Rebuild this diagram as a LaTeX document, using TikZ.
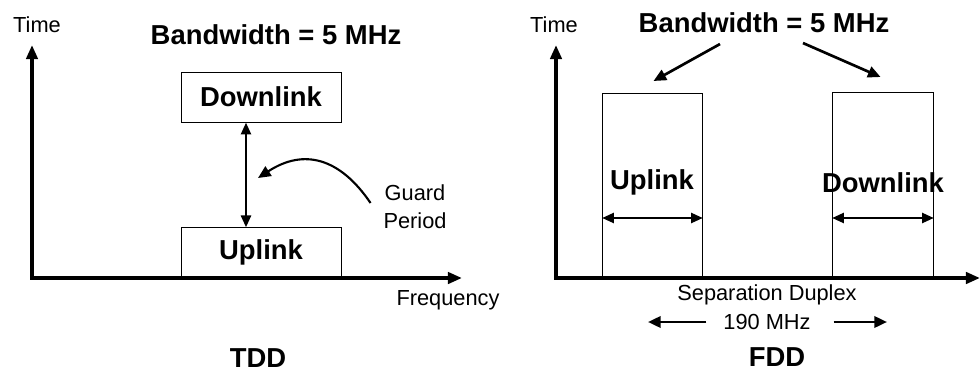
\documentclass[tikz,border=0pt]{standalone}
\usepackage{fontspec}
\setmainfont{Liberation Sans}
\usetikzlibrary{arrows.meta,positioning,calc}

\begin{document}
\begin{tikzpicture}[
 axis/.style={line width=2.7pt,{Triangle[length=10pt,width=8pt]}-{Triangle[length=10pt,width=8pt]}},
 band/.style={draw,line width=0.7pt,minimum width=4cm,minimum height=1.25cm,inner sep=0pt},
 twoway/.style={line width=2pt,{Triangle[length=8.5pt,width=7pt]}-{Triangle[length=8.5pt,width=7pt]}},
 pointer/.style={line width=1.9pt,-{Triangle[length=9pt,width=8pt]}},
 bigtxt/.style={font=\fontsize{19.5}{22}\selectfont\bfseries},
 smalltxt/.style={font=\fontsize{15.5}{20}\selectfont,align=center}]
\useasboundingbox (0,0) rectangle (24.5,9.4);
% TDD
\coordinate (tddtop) at (0.8,8.275);
\coordinate (tddorig) at (0.8,2.45);
\coordinate (tddend) at (11.55,2.45);
\draw[axis] (tddtop) -- (tddorig) -- (tddend);
\node[smalltxt] (tddtime) at (0.925,8.775) {Time};
\node[bigtxt] (tddbw) at (6.9,8.525) {Bandwidth = 5 MHz};
\node[band,bigtxt] (tdddown) at (6.525,6.975) {Downlink};
\node[band,bigtxt,minimum height=1.225cm] (tddup) at (6.525,3.09) {Uplink};
\draw[twoway] ([xshift=-0.375cm]tdddown.south) -- ([xshift=-0.375cm]tddup.north);
\node[smalltxt] (guard) at (10.375,4.225) {Guard\\Period};
\coordinate (gptip) at (6.45,4.95);
\draw[pointer,line width=1.5pt] ([xshift=-0.2cm,yshift=0.1cm]guard.west) .. controls (8.5,5.45) and (7.6,5.7) .. (gptip);
\node[smalltxt] (tddfreq) at (11.2,1.9) {Frequency};
\node[bigtxt] (tddname) at (6.45,0.45) {TDD};
% FDD
\coordinate (fddtop) at (13.9,8.275);
\coordinate (fddorig) at (13.9,2.45);
\coordinate (fddend) at (24.5,2.45);
\draw[axis] (fddtop) -- (fddorig) -- (fddend);
\node[smalltxt] (fddtime) at (13.85,8.775) {Time};
\node[bigtxt] (fddbw) at (19.1,8.825) {Bandwidth = 5 MHz};
\node[band,minimum width=2.5cm,minimum height=4.6cm,anchor=south west] (fddup) at (15.05,2.45) {};
\node[band,minimum width=2.525cm,minimum height=4.625cm,anchor=south west] (fdddown) at (20.8,2.45) {};
\node[bigtxt] (fdduplbl) at (16.3,4.85) {Uplink};
\node[bigtxt] (fdddownlbl) at (22.075,4.825) {Downlink};
\draw[twoway] ([yshift=1.5cm]fddup.south west) -- ([yshift=1.5cm]fddup.south east);
\draw[twoway] ([yshift=1.5cm]fdddown.south west) -- ([yshift=1.5cm]fdddown.south east);
\draw[pointer] ([xshift=-1.1cm,yshift=-0.15cm]fddbw.south) -- ([xshift=0.025cm,yshift=0.3cm]fddup.north);
\draw[pointer] ([xshift=0.975cm,yshift=-0.125cm]fddbw.south) -- ([xshift=-0.06cm,yshift=0.375cm]fdddown.north);
\node[smalltxt] (sepdup) at (19.175,2.025) {Separation Duplex};
\node[smalltxt] (sep190) at (19.175,1.35) {190 MHz};
\coordinate (sepl) at (16.2,1.35);
\coordinate (sepr) at (22.175,1.35);
\draw[pointer] ([xshift=-0.3cm]sep190.west) -- (sepl);
\draw[pointer] ([xshift=0.45cm]sep190.east) -- (sepr);
\node[bigtxt] (fddname) at (19.425,0.475) {FDD};
\end{tikzpicture}
\end{document}
